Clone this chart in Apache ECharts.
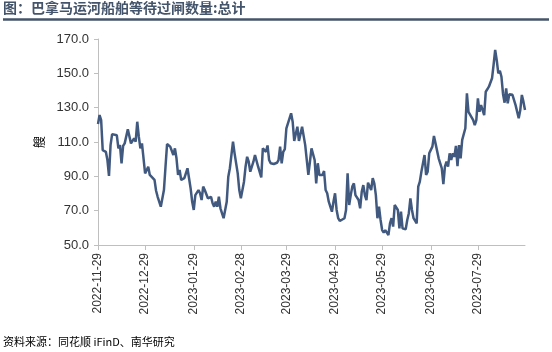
<!DOCTYPE html>
<html>
<head>
<meta charset="utf-8">
<script src="https://cdn.jsdelivr.net/npm/echarts@6/dist/echarts.min.js"></script>
<style>
  html, body { margin: 0; padding: 0; background: #fff; }
  #chart { width: 552px; height: 352px; }
</style>
</head>
<body>
<div id="chart"></div>
<script>
// 日期范围（逐日）
const startDate = '2022-11-29';
const endDate = '2023-08-28';

// 读数：距起始日的天数 / 等待过闸船舶数
const dayOffsets = [
  0, 1, 2, 3, 5, 6, 7, 8, 9, 12,
  13, 14, 15, 16, 17, 19, 21, 22, 23, 24,
  25, 26, 27, 28, 29, 30, 31, 32, 33, 34,
  36, 37, 38, 40, 41, 42, 43, 44, 46, 47,
  48, 49, 50, 51, 52, 53, 55, 56, 57, 58,
  59, 60, 61, 62, 64, 65, 66, 67, 68, 69,
  70, 72, 73, 74, 75, 76, 77, 78, 79, 80,
  82, 83, 84, 85, 86, 87, 89, 90, 91, 93,
  94, 95, 96, 97, 99, 100, 102, 103, 104, 105,
  106, 107, 108, 109, 110, 112, 114, 115, 116, 117,
  118, 119, 120, 121, 123, 124, 125, 126, 127, 128,
  129, 130, 131, 132, 133, 134, 135, 136, 138, 139,
  140, 141, 143, 144, 145, 146, 147, 149, 150, 151,
  152, 153, 154, 155, 157, 158, 159, 160, 161, 162,
  163, 164, 165, 166, 167, 168, 169, 170, 171, 172,
  173, 174, 175, 176, 177, 178, 179, 180, 181, 182,
  183, 185, 186, 187, 188, 189, 191, 192, 193, 194,
  195, 196, 197, 198, 199, 200, 201, 203, 204, 205,
  206, 208, 209, 210, 211, 212, 213, 214, 215, 216,
  217, 218, 219, 220, 221, 222, 223, 224, 225, 226,
  227, 228, 229, 230, 231, 232, 234, 235, 236, 237,
  238, 239, 240, 241, 242, 243, 244, 245, 246, 247,
  248, 249, 251, 252, 253, 254, 255, 256, 257, 258,
  259, 260, 261, 262, 263, 264, 265, 266, 267, 268,
  269, 270, 271, 272
];
const values = [
  120.5, 125.7, 122.8, 105.3, 104.3, 99.5, 90.2, 108.2, 114.6, 113.9,
  106.3, 108.2, 97.6, 107.7, 109.2, 117.4, 109.2, 109.6, 112.1, 110.2,
  121.8, 113.1, 106.3, 109.2, 109.6, 91.7, 92.7, 95.6, 90.8, 90.2,
  87.9, 81.6, 78.1, 72.3, 72.3, 82, 95.6, 108.8, 107.3, 106.3,
  102.4, 106.3, 100.5, 90.8, 93.7, 87.9, 88.9, 87.9, 94.7, 88.9,
  83, 75.2, 70.4, 79.1, 82, 80.1, 76.2, 84, 82, 83,
  77.2, 78.1, 74.3, 72.3, 75.2, 72.3, 78.1, 71.4, 70.4, 65.6,
  75.2, 89.8, 94.7, 94.7, 110.2, 103.4, 91.7, 82, 77.2, 86.9,
  95.6, 101.4, 98.5, 92.7, 98.5, 102.4, 95.6, 96.6, 89.4, 106.3,
  107.3, 104.3, 108, 99.5, 97.6, 97.2, 97.9, 99.5, 107.3, 97.6,
  104.3, 105.9, 118, 118.9, 126.7, 121.8, 110.6, 110.6, 118.9, 110.6,
  110.6, 118.9, 118.3, 108.2, 99.5, 90.8, 98.5, 106.3, 99.5, 85.9,
  97.6, 90.8, 90.8, 93.1, 82, 80.1, 75.2, 69.4, 75.2, 80.1,
  70.4, 65.6, 64, 63.2, 65.6, 70.4, 91.7, 73.3, 79.1, 84,
  85.9, 79.1, 78.1, 76.2, 71.4, 81, 84.9, 79.1, 76.2, 86.3,
  86.9, 82, 88.9, 85.9, 79.1, 65.6, 72.3, 64.6, 58.7, 57.2,
  58.7, 55.8, 62.6, 65.6, 60.7, 73.3, 70.4, 59.7, 69.4, 59.7,
  59.1, 59.1, 64.6, 68.5, 77.2, 70.4, 65.6, 62.6, 84, 86.9,
  92.7, 102.4, 90.8, 92.7, 103.4, 103.8, 107.3, 113.5, 109.2, 109.2,
  100.5, 99.5, 94.7, 85.5, 95.6, 98.5, 95.6, 103.4, 99.5, 103.4,
  101.4, 107.7, 96, 108.2, 100.5, 111.2, 118, 138.3, 127.6, 126.7,
  124.4, 122.8, 119.9, 122.8, 135.4, 127.6, 131.5, 128.6, 125.7, 139.3,
  140.7, 142.2, 147.1, 155, 163.6, 157.7, 150, 151.5, 148, 138,
  132.9, 141.3, 132.5, 137.9, 136.8, 137.5, 137.9, 131.5, 130.5, 123.8,
  128.6, 137.4, 133.5, 128.6
];

// 横轴刻度标签
const tickLabels = [
  '2022-11-29', '2022-12-29', '2023-01-29', '2023-02-28', '2023-03-29',
  '2023-04-29', '2023-05-29', '2023-06-29', '2023-07-29'
];

const categories = [];
for (let t = Date.parse(startDate + 'T00:00:00Z'); t <= Date.parse(endDate + 'T00:00:00Z'); t += 86400000) {
  categories.push(new Date(t).toISOString().slice(0, 10));
}
const seriesData = categories.map(() => null);
dayOffsets.forEach((d, i) => { seriesData[d] = values[i]; });

const isTick = (index, value) => tickLabels.indexOf(value) !== -1;

var myChart = echarts.init(document.getElementById('chart'));
var option = {
  animation: false,
  title: [
    {
      text: '图：巴拿马运河船舶等待过闸数量:总计',
      left: 3,
      top: 1,
      padding: 0,
      textStyle: { fontFamily: 'Noto Sans CJK SC', fontSize: 14, fontWeight: 'bold', color: '#44546a' }
    },
    {
      text: '资料来源：同花顺 iFinD、南华研究',
      left: 3,
      top: 336,
      padding: 0,
      textStyle: { fontFamily: 'Noto Sans CJK SC', fontSize: 11, fontWeight: 'normal', color: '#000' }
    }
  ],
  graphic: [
    {
      type: 'line',
      shape: { x1: 3, y1: 19.5, x2: 549, y2: 19.5 },
      style: { stroke: '#44546a', lineWidth: 2.5 }
    }
  ],
  grid: { left: 98, right: 27, top: 39, bottom: 107 },
  xAxis: {
    type: 'category',
    data: categories,
    boundaryGap: false,
    axisLine: { lineStyle: { color: '#bfbfbf' } },
    axisTick: { interval: isTick, length: 5, lineStyle: { color: '#bfbfbf' } },
    axisLabel: {
      interval: isTick,
      rotate: 90,
      margin: 8,
      fontSize: 12,
      fontFamily: 'Liberation Sans',
      color: '#333'
    },
    splitLine: { show: false }
  },
  yAxis: {
    type: 'value',
    min: 50,
    max: 170,
    interval: 20,
    name: '艘',
    nameLocation: 'middle',
    nameRotate: 90,
    nameGap: 50,
    nameTextStyle: { fontFamily: 'Noto Sans CJK SC', fontSize: 12, color: '#000' },
    axisLine: { show: true, lineStyle: { color: '#bfbfbf' } },
    axisTick: { show: true, length: 4, lineStyle: { color: '#bfbfbf' } },
    axisLabel: {
      formatter: function (v) { return v.toFixed(1); },
      margin: 9,
      fontSize: 13,
      fontFamily: 'Liberation Sans',
      color: '#333'
    },
    splitLine: { show: false }
  },
  series: [
    {
      name: '总计',
      type: 'line',
      data: seriesData,
      connectNulls: true,
      symbol: 'none',
      lineStyle: { color: '#41597f', width: 2.5 }
    }
  ]
};
myChart.setOption(option);
</script>
</body>
</html>
